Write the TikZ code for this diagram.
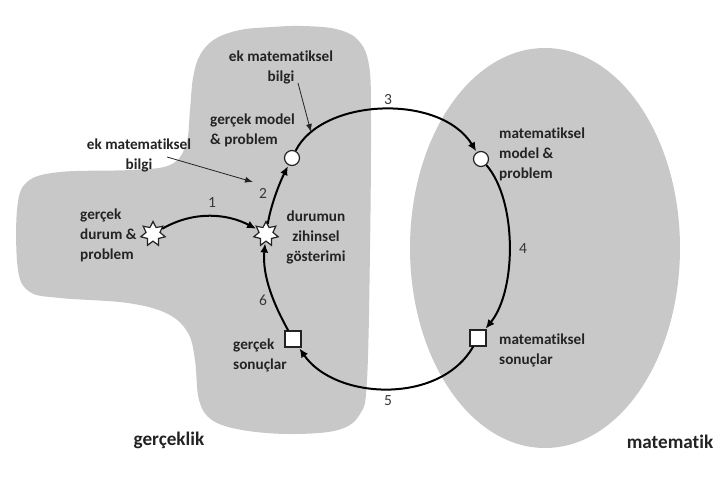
\documentclass[tikz,border=0pt]{standalone}
\usepackage{fontspec}
\setmainfont{Carlito}[Ligatures={NoCommon}]
\usetikzlibrary{shapes.geometric,arrows.meta}

\definecolor{regiongray}{RGB}{200,200,200}
\definecolor{inkgray}{RGB}{35,35,35}
\definecolor{numgray}{RGB}{55,55,55}

\tikzset{
  starnode/.style={star, star points=7, star point ratio=1.75, minimum size=25pt,
                   inner sep=0pt, fill=white, draw=inkgray, line width=1.2pt},
  circnode/.style={circle, minimum size=15pt, inner sep=0pt, fill=white,
                   draw=inkgray, line width=1.2pt},
  sqnode/.style={rectangle, minimum size=16pt, inner sep=0pt, fill=white,
                 draw=inkgray, line width=1.2pt},
  cycarrow/.style={line width=2pt, draw=black, -{Latex[length=9pt,width=8pt]}, shorten >=1pt},
  infoarrow/.style={line width=0.8pt, draw=inkgray, -{Latex[length=8pt,width=6pt]}},
  lbl/.style={font=\fontsize{15.2}{20}\selectfont\bfseries, text=inkgray, inner sep=0pt},
  biglbl/.style={font=\fontsize{19.2}{21}\selectfont\bfseries, text=inkgray, inner sep=0pt},
  numlbl/.style={font=\fontsize{15.5}{17}\selectfont, text=numgray, inner sep=0pt}
}

\begin{document}
\begin{tikzpicture}[x=1pt, y=-1pt]
\useasboundingbox (0,0) rectangle (715,477);

% reality region
\fill[regiongray] plot[smooth cycle, tension=0.6] coordinates {
  (240,30) (272,27) (302,26) (336,29) (358,40) (369,65) (371,120)
  (370,250) (367,380) (360,414) (338,430) (290,434) (242,430) (212,420)
  (199,400) (195,360) (188,333) (168,314) (128,303) (60,298) (30,292)
  (18,270) (17,210) (27,182) (60,172) (130,170) (170,165) (186,145)
  (190,110) (193,78) (200,55) (215,39)};

% mathematics region
\fill[regiongray] (545,248) ellipse [x radius=135, y radius=200];

% states of the cycle
\node[starnode] (s1) at (153,234) {};
\node[starnode] (s2) at (266,234) {};
\node[circnode] (c1) at (292,158) {};
\node[circnode] (c2) at (481,159) {};
\node[sqnode]   (q2) at (478,338) {};
\node[sqnode]   (q1) at (293,339) {};

% transitions
\draw[cycarrow] (s1) .. controls (195,210) and (228,214) .. (s2);
\draw[cycarrow] (s2) .. controls (271,205) and (279,184) .. (c1);
\draw[cycarrow] (c1) .. controls (322,98) and (440,93) .. (c2);
\draw[cycarrow] (c2) .. controls (517,200) and (517,290) .. (q2);
\draw[cycarrow] (q2) .. controls (440,405) and (335,400) .. (q1);
\draw[cycarrow] (q1) .. controls (274,305) and (262,276) .. (s2);

% step numbers
\node[numlbl] (n1) at (212,203) {1};
\node[numlbl] (n2) at (263,193) {2};
\node[numlbl] (n3) at (388,100) {3};
\node[numlbl] (n4) at (523,249) {4};
\node[numlbl] (n5) at (388,401) {5};
\node[numlbl] (n6) at (263,300) {6};

% labels
\node[lbl, align=center] (ekA) at (281,67) {ek matematiksel\\bilgi};
\node[lbl, align=center] (ekB) at (139,155) {ek matematiksel\\bilgi};
\node[lbl, align=left, anchor=west] (gm) at (210,130) {gerçek model\\\& problem};
\node[lbl, align=center] (dz) at (316,237) {durumun\\zihinsel\\gösterimi};
\node[lbl, align=left, anchor=west] (gd) at (80,235) {gerçek\\durum \&\\problem};
\node[lbl, align=left, anchor=west] (mm) at (499,154) {matematiksel\\model \&\\problem};
\node[lbl, align=left, anchor=west] (ms) at (499,350) {matematiksel\\sonuçlar};
\node[lbl, align=left, anchor=west] (gs) at (233,355) {gerçek\\sonuçlar};
\node[biglbl] (gk) at (169,440) {gerçeklik};
\node[biglbl] (mt) at (670,442) {matematik};

% extra knowledge feeding into the modelling steps
\coordinate (ekAfrom) at (298,83);
\coordinate (ekAto) at (311,132);
\coordinate (ekBfrom) at (167,157);
\coordinate (ekBto) at (253,182);
\draw[infoarrow] (ekAfrom) -- (ekAto);
\draw[infoarrow] (ekBfrom) -- (ekBto);
\end{tikzpicture}
\end{document}
